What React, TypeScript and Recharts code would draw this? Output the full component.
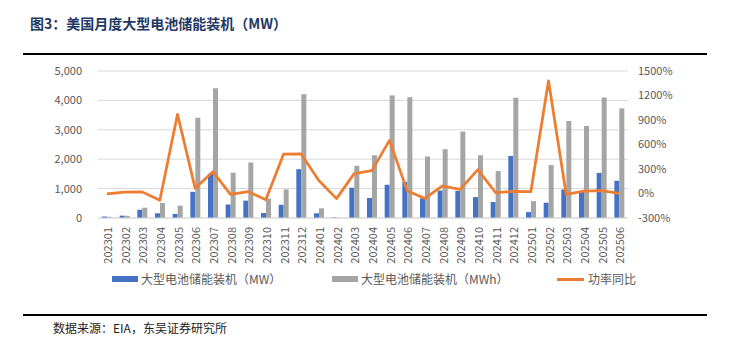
import { ComposedChart, Bar, Line, XAxis, YAxis, CartesianGrid } from 'recharts';

const months = [
  '202301', '202302', '202303', '202304', '202305', '202306', '202307', '202308', '202309', '202310',
  '202311', '202312', '202401', '202402', '202403', '202404', '202405', '202406', '202407', '202408',
  '202409', '202410', '202411', '202412', '202501', '202502', '202503', '202504', '202505', '202506',
];

// 大型电池储能装机（MW）
const powerMW = [
  50, 80, 280, 160, 140, 890, 1500, 460, 590, 170,
  450, 1660, 160, 20, 1030, 680, 1130, 1230, 665, 935,
  925, 710, 545, 2110, 200, 520, 970, 900, 1535, 1265,
];

// 大型电池储能装机（MWh）
const energyMWh = [
  40, 75, 350, 510, 420, 3410, 4410, 1540, 1890, 660,
  970, 4210, 330, 10, 1775, 2135, 4170, 4110, 2090, 2340,
  2940, 2135, 1595, 4090, 575, 1800, 3300, 3130, 4100, 3730,
];

// 功率同比（%）
const yoyPct = [
  -5, 18, 20, -83, 970, 63, 267, -10, 22, -76,
  482, 484, 160, -63, 243, 280, 650, 35, -60, 92,
  50, 292, 12, 27, 22, 1380, -10, 30, 35, 2,
];

const leftTicks = [0, 1000, 2000, 3000, 4000, 5000];
const rightTicks = [-300, 0, 300, 600, 900, 1200, 1500];

const data = months.map((m, i) => ({
  month: m,
  mw: powerMW[i],
  mwh: energyMWh[i],
  yoy: yoyPct[i],
}));

const FONT = "'Noto Sans CJK SC', 'Noto Sans', sans-serif";
const TEXT = '#595959';

function MonthTick({ x, y, payload }: any) {
  return (
    <g transform={`translate(${x},${y + 1})`}>
      <text
        transform="rotate(-90)"
        textAnchor="end"
        dominantBaseline="central"
        fontSize={11}
        fill={TEXT}
        fontFamily={FONT}
      >
        {payload.value}
      </text>
    </g>
  );
}

export default function App() {
  return (
    <div
      style={{
        position: 'absolute',
        left: 0,
        top: 0,
        width: 732,
        height: 354,
        background: '#fff',
        fontFamily: FONT,
      }}
    >
      <div
        style={{
          position: 'absolute',
          left: 30,
          top: 13,
          fontSize: 14,
          fontWeight: 'bold',
          color: '#1F3864',
          whiteSpace: 'nowrap',
        }}
      >
        图3：美国月度大型电池储能装机（MW）
      </div>
      <div style={{ position: 'absolute', left: 23, top: 53, width: 684, height: 2, background: '#000' }} />

      <div style={{ position: 'absolute', left: 0, top: 0 }}>
        <ComposedChart
          width={732}
          height={278}
          data={data}
          margin={{ top: 71, left: 38, right: 44, bottom: 0 }}
          barGap={0}
        >
          <CartesianGrid vertical={false} stroke="#D9D9D9" yAxisId="left" />
          <XAxis
            dataKey="month"
            interval={0}
            height={60}
            tickLine={false}
            axisLine={{ stroke: '#D9D9D9' }}
            tick={<MonthTick />}
          />
          <YAxis
            yAxisId="left"
            width={60}
            domain={[0, 5000]}
            ticks={leftTicks}
            axisLine={false}
            tickLine={false}
            tickFormatter={(v: number) => v.toLocaleString('en-US')}
            tick={{ fontSize: 11, fill: TEXT, fontFamily: FONT }}
            tickMargin={10}
          />
          <YAxis
            yAxisId="right"
            orientation="right"
            width={60}
            domain={[-300, 1500]}
            ticks={rightTicks}
            axisLine={false}
            tickLine={false}
            tickFormatter={(v: number) => `${v}%`}
            tick={{ fontSize: 11, fill: TEXT, fontFamily: FONT }}
            tickMargin={4}
          />
          <Bar yAxisId="left" dataKey="mw" fill="#4472C4" barSize={5} isAnimationActive={false} />
          <Bar yAxisId="left" dataKey="mwh" fill="#A5A5A5" barSize={5} isAnimationActive={false} />
          <Line
            yAxisId="right"
            dataKey="yoy"
            stroke="#ED7D31"
            strokeWidth={2.75}
            dot={false}
            strokeLinejoin="round"
            isAnimationActive={false}
          />
        </ComposedChart>
      </div>

      <div style={{ position: 'absolute', left: 112, top: 276, width: 26, height: 6, background: '#4472C4' }} />
      <div style={{ position: 'absolute', left: 141, top: 270, fontSize: 12, color: TEXT, whiteSpace: 'nowrap' }}>
        大型电池储能装机（MW）
      </div>
      <div style={{ position: 'absolute', left: 332, top: 276, width: 26, height: 6, background: '#A5A5A5' }} />
      <div style={{ position: 'absolute', left: 361, top: 270, fontSize: 12, color: TEXT, whiteSpace: 'nowrap' }}>
        大型电池储能装机（MWh）
      </div>
      <div style={{ position: 'absolute', left: 557, top: 278, width: 27, height: 3, background: '#ED7D31' }} />
      <div style={{ position: 'absolute', left: 588, top: 270, fontSize: 12, color: TEXT, whiteSpace: 'nowrap' }}>
        功率同比
      </div>

      <div style={{ position: 'absolute', left: 23, top: 314, width: 684, height: 2, background: '#000' }} />
      <div style={{ position: 'absolute', left: 53, top: 319, fontSize: 12, color: '#222', whiteSpace: 'nowrap' }}>
        数据来源：EIA，东吴证券研究所
      </div>
    </div>
  );
}
